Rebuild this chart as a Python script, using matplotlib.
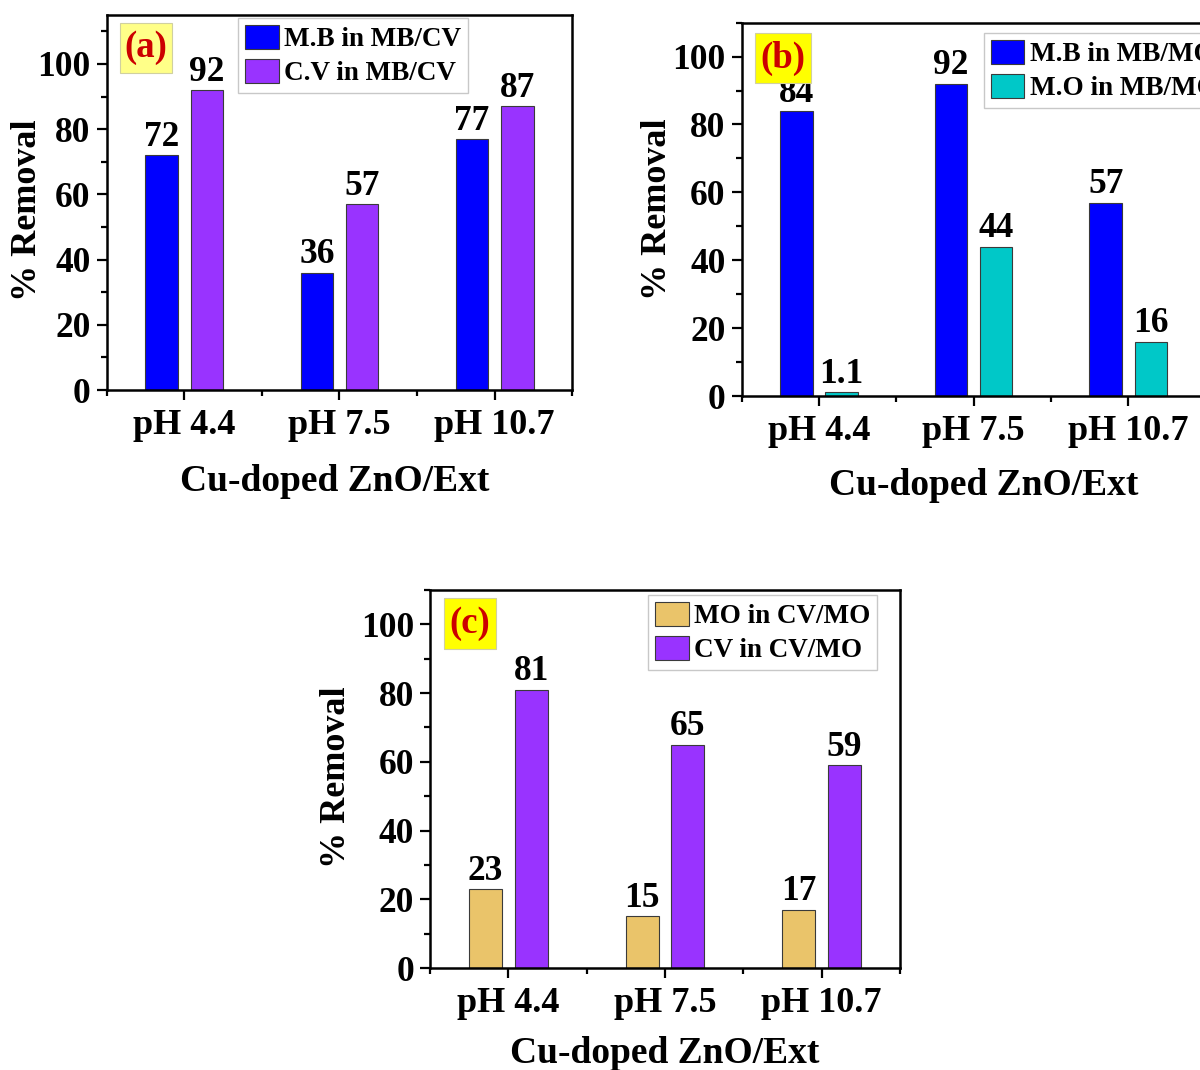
import matplotlib
matplotlib.use("Agg")
import matplotlib.pyplot as plt
from matplotlib.patches import Rectangle
from matplotlib.ticker import MultipleLocator, FixedLocator
import numpy as np

plt.rcParams["font.family"] = ["Liberation Serif", "DejaVu Serif"]
plt.rcParams["font.weight"] = "bold"

categories = ["pH 4.4", "pH 7.5", "pH 10.7"]

# (a) MB/CV mixture
a_mb = [72, 36, 77]
a_cv = [92, 57, 87]
# (b) MB/MO mixture
b_mb = [84, 92, 57]
b_mo = [1.1, 44, 16]
# (c) CV/MO mixture
c_mo = [23, 15, 17]
c_cv = [81, 65, 59]

BLUE = "#0000FF"
PURPLE = "#9933FF"
CYAN = "#00C8C8"
TAN = "#EAC46A"

fig = plt.figure(figsize=(12, 10.7), dpi=100)

panels = [
    dict(rect=[0.0889, 0.6355, 0.388, 0.3505], ymax=115,
         series=[(a_mb, BLUE, "M.B in MB/CV"), (a_cv, PURPLE, "C.V in MB/CV")],
         tag="(a)", tagbox=(0.0286, 0.845, 0.111, 0.134), tagcolor="#FFFF88",
         leg=(0.282, 0.992), ylab=(-0.17, 0.48), xlab=(0.489, -0.243)),
    dict(rect=[0.618, 0.6299, 0.3867, 0.3489], ymax=110,
         series=[(b_mb, BLUE, "M.B in MB/MO"), (b_mo, CYAN, "M.O in MB/MO")],
         tag="(b)", tagbox=(0.0287, 0.838, 0.120, 0.134), tagcolor="#FFFF00",
         leg=(0.522, 0.972), ylab=(-0.181, 0.50), xlab=(0.522, -0.241)),
    dict(rect=[0.3583, 0.0953, 0.3917, 0.3533], ymax=110,
         series=[(c_mo, TAN, "MO in CV/MO"), (c_cv, PURPLE, "CV in CV/MO")],
         tag="(c)", tagbox=(0.0298, 0.844, 0.110, 0.135), tagcolor="#FFFF00",
         leg=(0.464, 0.987), ylab=(-0.198, 0.505), xlab=(0.50, -0.225)),
]

x = np.arange(len(categories))
width = 0.21
offsets = [-0.146, 0.146]

for p in panels:
    ax = fig.add_axes(p["rect"])
    handles = []
    for (vals, col, lab), off in zip(p["series"], offsets):
        bars = ax.bar(x + off, vals, width, color=col, edgecolor="#3a3a3a",
                      linewidth=0.8, label=lab, zorder=2)
        handles.append(bars)
        for xi, v in zip(x + off, vals):
            ax.text(xi, v + 0.4, f"{v:g}", ha="center", va="bottom",
                    fontsize=25.5, fontweight="bold", zorder=3)

    ax.set_xlim(-0.5, 2.5)
    ax.set_ylim(0, p["ymax"])
    ax.set_xticks(x)
    ax.set_xticklabels(categories)
    ax.xaxis.set_minor_locator(FixedLocator([-0.5, 0.5, 1.5, 2.5]))
    ax.yaxis.set_major_locator(MultipleLocator(20))
    ax.yaxis.set_minor_locator(MultipleLocator(10))
    ax.tick_params(axis="both", which="major", direction="out", length=7.5,
                   width=1.6, top=False, right=False)
    ax.tick_params(axis="both", which="minor", direction="out", length=4,
                   width=1.6, top=False, right=False)
    ax.tick_params(axis="y", labelsize=25.5, pad=4)
    ax.tick_params(axis="x", labelsize=26, pad=6)
    for lbl in ax.get_xticklabels() + ax.get_yticklabels():
        lbl.set_fontweight("bold")
    for s in ax.spines.values():
        s.set_linewidth(1.8)

    ax.set_ylabel("% Removal", fontsize=26, fontweight="bold", va="center")
    ax.yaxis.set_label_coords(*p["ylab"])
    ax.set_xlabel("Cu-doped ZnO/Ext", fontsize=27, fontweight="bold", va="center")
    ax.xaxis.set_label_coords(*p["xlab"])

    leg = ax.legend(handles=handles, loc="upper left", bbox_to_anchor=p["leg"],
                    fontsize=19.5, frameon=True, fancybox=False, framealpha=1,
                    edgecolor="#c8c8c8", handlelength=1.25, handleheight=1.0,
                    handletextpad=0.2, labelspacing=0.25, borderpad=0.25,
                    borderaxespad=0.0)
    leg.get_frame().set_linewidth(1.0)
    leg.set_zorder(5)
    for t in leg.get_texts():
        t.set_fontweight("bold")

    bx, by, bw, bh = p["tagbox"]
    ax.add_patch(Rectangle((bx, by), bw, bh, transform=ax.transAxes,
                           facecolor=p["tagcolor"], edgecolor="#d0d0a0",
                           linewidth=0.8, zorder=6))
    ax.text(bx + bw / 2, by + bh / 2, p["tag"], transform=ax.transAxes,
            ha="center", va="center", fontsize=26.5, fontweight="bold",
            color="#CC0000", zorder=7)

fig.savefig("out.png", dpi=100)
